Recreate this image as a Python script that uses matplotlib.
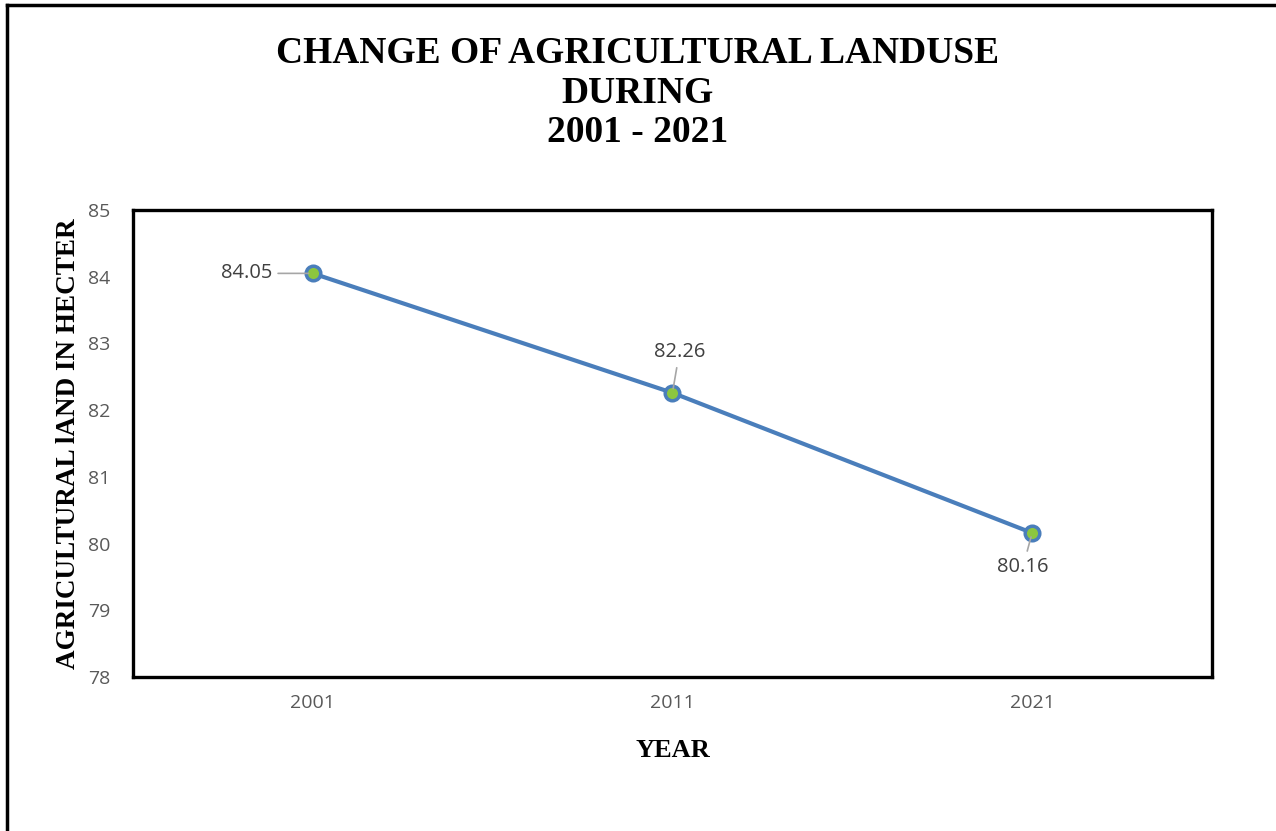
import matplotlib.pyplot as plt
from matplotlib.lines import Line2D

years = ['2001', '2011', '2021']
land = [84.05, 82.26, 80.16]
yticks = [78, 79, 80, 81, 82, 83, 84, 85]

serif = ['Liberation Serif', 'DejaVu Serif']
sans = ['Open Sans', 'DejaVu Sans']

fig = plt.figure(figsize=(12.76, 8.31), dpi=100, facecolor='white')
ax = fig.add_axes([0.1042, 0.1853, 0.8456, 0.562])

x = list(range(len(years)))
ax.plot(x, land, color='#4a7ebb', linewidth=3, marker='o', markersize=10.5,
        markerfacecolor='#8cc63f', markeredgecolor='#4a7ebb', markeredgewidth=2.5, zorder=3)

ax.set_xlim(-0.5, len(years) - 0.5)
ax.set_ylim(78, 85)
ax.set_xticks(x)
ax.set_xticklabels(years)
ax.set_yticks(yticks)
ax.tick_params(length=0, labelsize=14, labelcolor='#595959')
ax.tick_params(axis='y', pad=16)
ax.tick_params(axis='x', pad=12)
for lab in ax.get_xticklabels() + ax.get_yticklabels():
    lab.set_family(sans)
for s in ax.spines.values():
    s.set_linewidth(2.4)
    s.set_color('black')

# data labels with leader lines (offsets in points)
ann = [(-29, 0, 'right', 'center'), (5, 22, 'center', 'bottom'), (-6.5, -17, 'center', 'top')]
for xi, yi, (dx, dy, ha, va) in zip(x, land, ann):
    ax.annotate(f'{yi:.2f}', xy=(xi, yi), xytext=(dx, dy), textcoords='offset points',
                ha=ha, va=va, fontsize=14.5, color='#404040', family=sans,
                arrowprops=dict(arrowstyle='-', color='#a6a6a6', lw=1.2, shrinkA=2, shrinkB=3))

ax.set_xlabel('YEAR', fontsize=19, fontweight='bold', family=serif)
ax.set_ylabel('AGRICULTURAL lAND IN HECTER', fontsize=19.5, fontweight='bold', family=serif)
ax.xaxis.set_label_coords(0.5, -0.133)
ax.yaxis.set_label_coords(-0.048, 0.5)

fig.text(0.4996, 0.8880, 'CHANGE OF AGRICULTURAL LANDUSE\nDURING\n2001 - 2021', ha='center', va='center',
         fontsize=27, fontweight='bold', family=serif, linespacing=1.16)

# outer chart border (left and top visible)
fig.add_artist(Line2D([0.0055, 0.0055], [0, 0.994], transform=fig.transFigure, color='black', lw=2.5))
fig.add_artist(Line2D([0.0055, 1], [0.994, 0.994], transform=fig.transFigure, color='black', lw=2.5))

fig.savefig('out.png', dpi=100, facecolor='white')
